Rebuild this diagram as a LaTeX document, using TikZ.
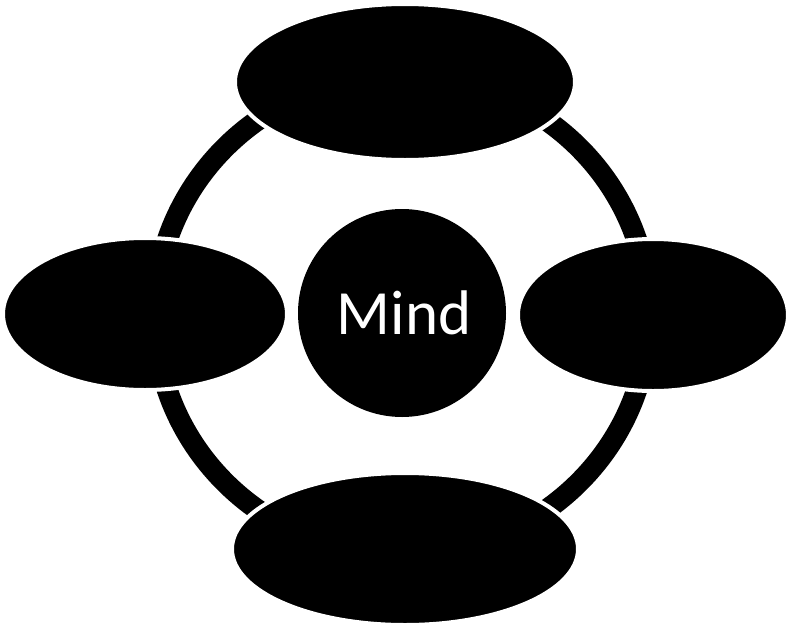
\documentclass[tikz,border=0pt]{standalone}
\usepackage{fontspec}
\setmainfont{Carlito}
\usetikzlibrary{shapes.geometric}
\begin{document}
\begin{tikzpicture}[x=1pt,y=-1pt,
  blob/.style={ellipse, fill=black, draw=white, line width=4pt, inner sep=0pt},
  hub/.style={circle, fill=black, inner sep=0pt, minimum size=208pt},
  ring/.style={draw=black, line width=21pt}]
\useasboundingbox (0,0) rectangle (787,624);
\node[hub] (mind) at (402,313) {};
\coordinate (rc) at (402,315);
\draw[ring] (rc) ellipse [x radius=247pt, y radius=240pt];
\node[blob, minimum width=340pt, minimum height=156pt] (top) at (405,82) {};
\node[blob, minimum width=284pt, minimum height=152pt] (left) at (145,314) {};
\node[blob, minimum width=270pt, minimum height=152pt] (right) at (653,315) {};
\node[blob, minimum width=346pt, minimum height=152pt] (bottom) at (405,549) {};
\node[anchor=base, text=white, font=\fontsize{63}{70}\selectfont, inner sep=0pt] (label) at (404,334) {Mind};
\end{tikzpicture}
\end{document}
